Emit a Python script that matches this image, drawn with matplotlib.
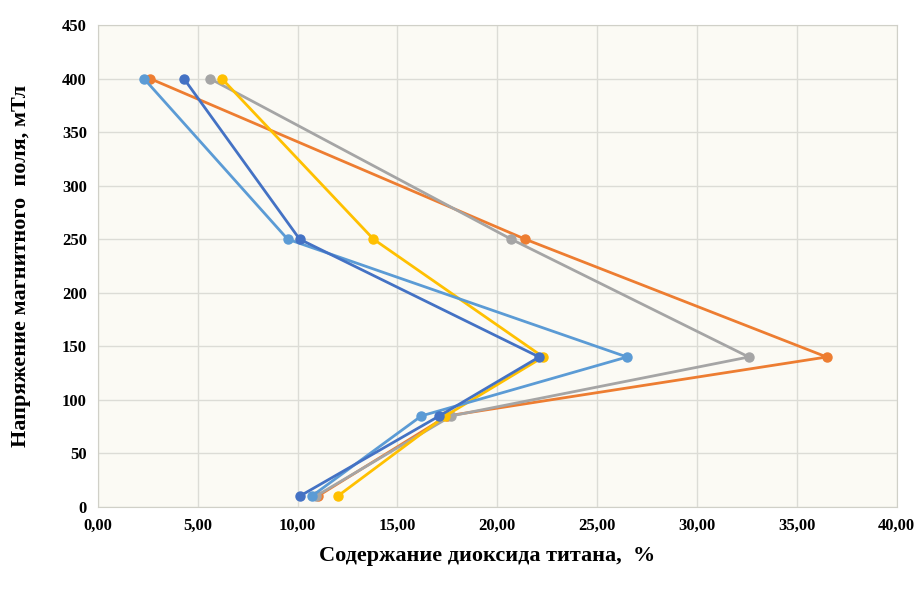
import matplotlib.pyplot as plt
from matplotlib.ticker import FuncFormatter

# field strength levels, mT
field = [10, 85, 140, 250, 400]

# titanium dioxide content, % (one list per series)
orange = [11.0, 17.5, 36.5, 21.4, 2.6]
gray = [10.9, 17.7, 32.6, 20.7, 5.6]
yellow = [12.0, 17.4, 22.3, 13.8, 6.2]
light_blue = [10.7, 16.2, 26.5, 9.5, 2.3]
dark_blue = [10.1, 17.1, 22.1, 10.1, 4.3]

series = [
    (orange, '#ED7D31'),
    (gray, '#A5A5A5'),
    (yellow, '#FFC000'),
    (light_blue, '#5B9BD5'),
    (dark_blue, '#4472C4'),
]

plt.rcParams['font.family'] = ['Liberation Serif', 'DejaVu Serif']

fig = plt.figure(figsize=(9.2, 5.95), dpi=100)
ax = fig.add_axes([0.1065, 0.148, 0.868, 0.81])
ax.set_facecolor('#fbfaf4')

for xs, col in series:
    ax.plot(xs, field, color=col, lw=2, marker='o', ms=6.5, zorder=3)

ax.set_xlim(0, 40)
ax.set_ylim(0, 450)
ax.set_xticks(range(0, 41, 5))
ax.set_yticks(range(0, 451, 50))
ax.xaxis.set_major_formatter(FuncFormatter(lambda v, p: f'{v:.2f}'.replace('.', ',')))
ax.grid(True, color='#dcdcd6', lw=1)
ax.set_axisbelow(True)
for s in ax.spines.values():
    s.set_color('#d0d0c8')
ax.tick_params(length=0, labelsize=12, pad=8)
for lbl in ax.get_xticklabels() + ax.get_yticklabels():
    lbl.set_fontweight('bold')

ax.set_xlabel('Содержание диоксида титана,  %', fontsize=16, fontweight='bold', labelpad=4)
ax.xaxis.set_label_coords(0.487, -0.082)
ax.set_ylabel('Напряжение магнитного  поля, мТл', fontsize=16, fontweight='bold', labelpad=22)

fig.savefig('out.png')
